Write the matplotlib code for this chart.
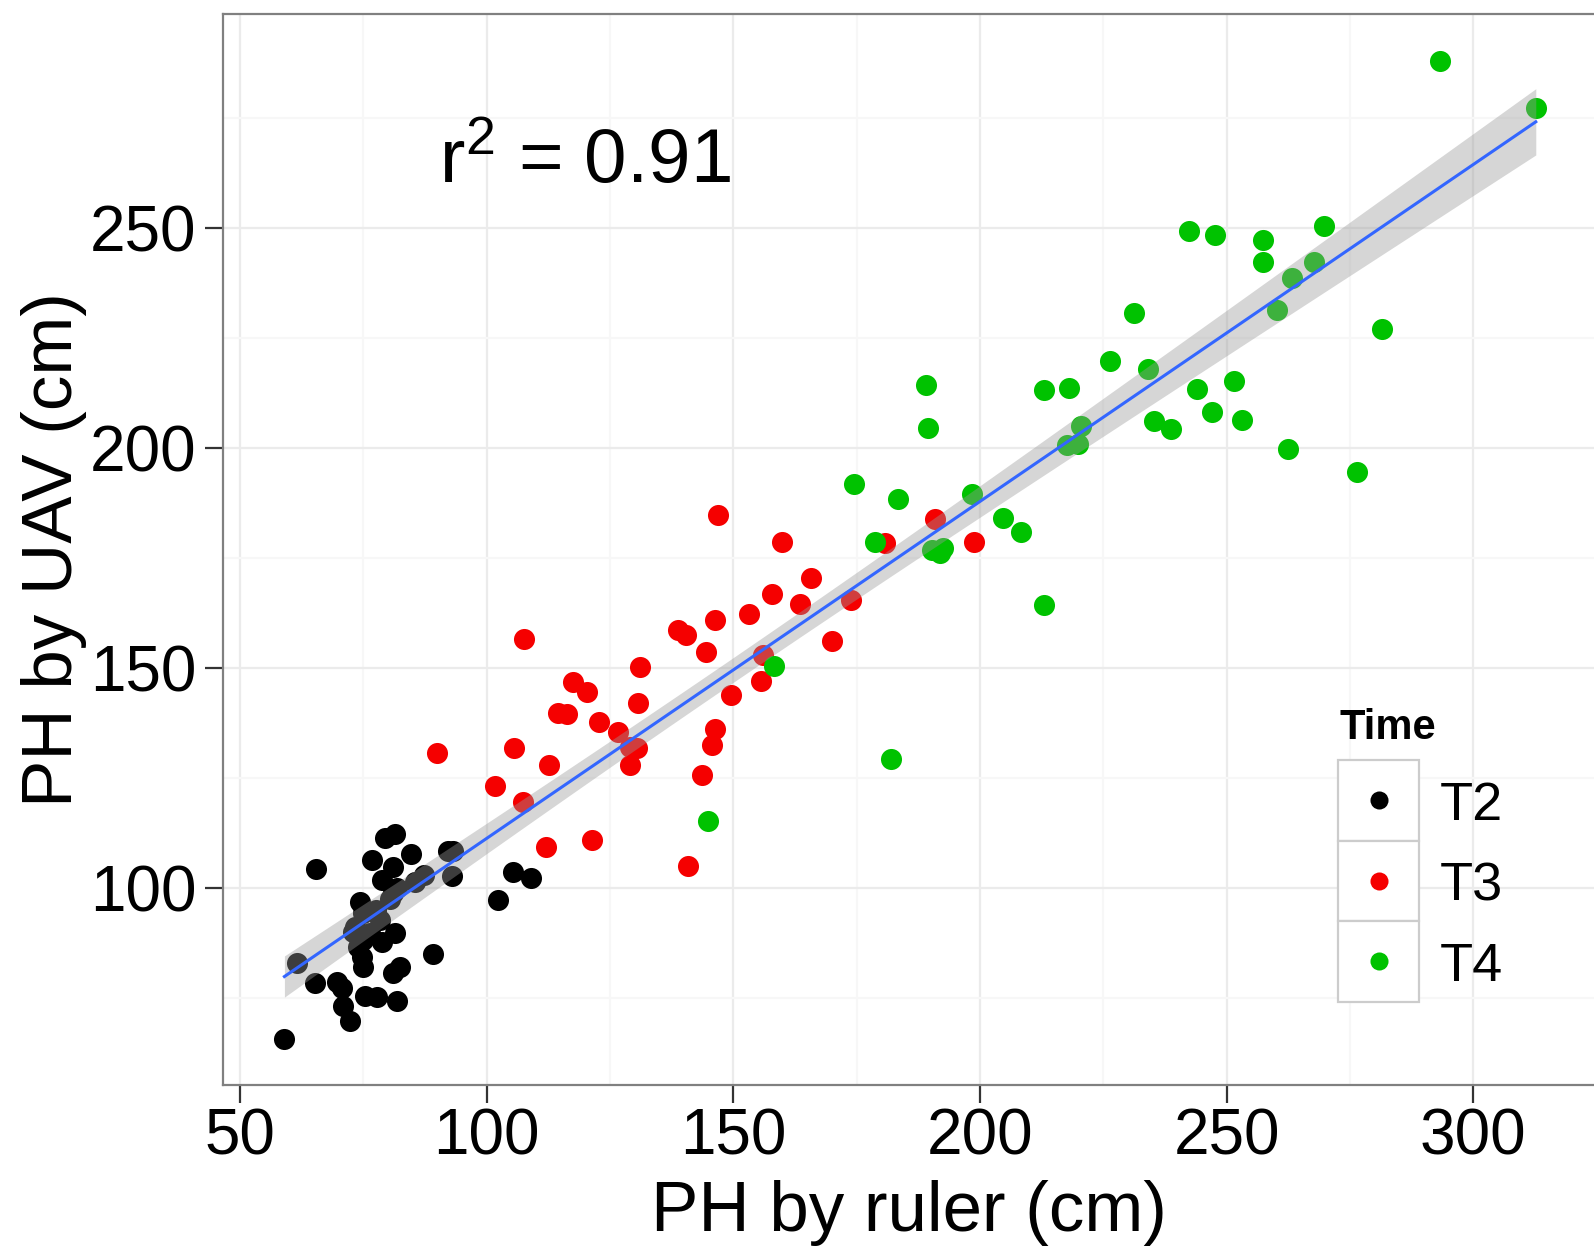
import numpy as np
import matplotlib
matplotlib.use("Agg")
import matplotlib.pyplot as plt
from matplotlib.patches import Rectangle
from matplotlib.lines import Line2D

plt.rcParams['font.family'] = ['Liberation Sans', 'DejaVu Sans']
plt.rcParams['mathtext.default'] = 'regular'

# plant height, ruler (x) vs UAV (y), per measuring time
t2_ruler = [65.5, 59.0, 61.5, 65.2, 69.6, 70.6, 70.9, 72.3, 75.3, 77.7, 81.8, 75.0,
            74.7, 81.1, 82.4, 81.4, 78.7, 89.1, 74.3, 73.3, 75.0, 78.4, 76.4, 75.0,
            76.7, 78.7, 81.1, 79.4, 81.4, 84.7, 81.1, 81.8, 85.5, 87.2, 92.2, 93.2,
            92.9, 105.3, 108.9, 102.4, 73.0, 77.5, 74.0, 80.5]
t2_uav = [104.3, 65.7, 83.0, 78.3, 78.7, 77.2, 73.1, 69.8, 75.4, 75.2, 74.4, 82.1,
          84.4, 80.6, 82.1, 89.7, 87.8, 84.9, 96.9, 91.2, 94.2, 92.7, 89.7, 88.2,
          106.4, 101.8, 104.8, 111.3, 112.2, 107.7, 98.8, 99.9, 101.4, 103.0, 108.3, 108.3,
          102.6, 103.7, 102.2, 97.3, 90.0, 95.0, 86.5, 97.5]

t3_ruler = [147.0, 159.8, 165.8, 157.8, 163.5, 153.2, 146.3, 138.8, 140.5, 144.5, 170.1,
            156.1, 155.6, 131.1, 149.5, 130.6, 117.6, 120.3, 114.5, 116.3, 122.8, 146.3,
            145.6, 126.7, 129.1, 130.4, 129.1, 143.7, 107.6, 90.0, 105.6, 112.7, 101.7,
            107.4, 112.0, 121.4, 140.9, 180.7, 190.9, 198.8, 173.9]
t3_uav = [184.8, 178.5, 170.4, 166.7, 164.5, 162.2, 160.9, 158.6, 157.5, 153.7, 156.1,
          153.0, 147.0, 150.1, 143.9, 142.0, 146.9, 144.5, 139.7, 139.5, 137.8, 136.1,
          132.5, 135.5, 132.1, 131.7, 128.0, 125.7, 156.5, 130.6, 131.9, 128.0, 123.2,
          119.6, 109.2, 110.9, 105.0, 178.3, 183.8, 178.7, 165.5]

t4_ruler = [158.3, 144.9, 182.0, 189.0, 189.4, 174.5, 183.3, 198.4, 204.6, 208.4, 178.7,
            190.2, 191.9, 192.6, 212.9, 212.9, 218.1, 217.6, 219.9, 220.4, 242.4, 247.7,
            257.3, 257.4, 269.8, 267.8, 263.3, 260.3, 231.2, 281.5, 226.4, 234.0, 244.0,
            251.5, 247.0, 253.1, 235.2, 238.8, 262.5, 276.4, 293.3, 312.7]
t4_uav = [150.5, 115.1, 129.3, 214.3, 204.5, 191.8, 188.3, 189.5, 184.0, 180.8, 178.7,
          176.8, 176.0, 177.2, 164.2, 213.2, 213.6, 200.7, 200.9, 205.0, 249.3, 248.4,
          247.3, 242.2, 250.5, 242.3, 238.6, 231.4, 230.6, 227.0, 219.8, 217.9, 213.3,
          215.2, 208.1, 206.4, 206.2, 204.2, 199.7, 194.4, 288.0, 277.3]

groups = ['T2', 'T3', 'T4']
colors = ['#000000', '#F50000', '#00C200']
r2_label = '0.91'

xs_all = [t2_ruler, t3_ruler, t4_ruler]
ys_all = [t2_uav, t3_uav, t4_uav]

W, H = 1594, 1251
fig = plt.figure(figsize=(W / 100, H / 100), dpi=100)
ax = fig.add_axes([223 / W, 166 / H, (W - 223) / W, 1071 / H])

for xv, yv, col in zip(xs_all, ys_all, colors):
    ax.scatter(xv, yv, s=230, color=col, linewidths=0, zorder=2)

# linear fit with 95% confidence band (like geom_smooth(method='lm'))
x = np.concatenate([np.asarray(v, float) for v in xs_all])
y = np.concatenate([np.asarray(v, float) for v in ys_all])
n = len(x)
slope, icpt = np.polyfit(x, y, 1)
resid = y - (slope * x + icpt)
s_err = np.sqrt(np.sum(resid ** 2) / (n - 2))
xg = np.linspace(x.min(), x.max(), 200)
yg = slope * xg + icpt
se = s_err * np.sqrt(1 / n + (xg - x.mean()) ** 2 / np.sum((x - x.mean()) ** 2))
tval = 1.98
ax.fill_between(xg, yg - tval * se, yg + tval * se, color='#999999', alpha=0.4,
                linewidth=0, zorder=3)
ax.plot(xg, yg, color='#3366FF', lw=2.2, zorder=4)

ax.set_xlim(46.55, 324.5)
ax.set_ylim(55.2, 298.6)
ax.set_xticks([50, 100, 150, 200, 250, 300])
ax.set_xticks([75, 125, 175, 225, 275], minor=True)
ax.set_yticks([100, 150, 200, 250])
ax.set_yticks([75, 125, 175, 225, 275], minor=True)
ax.grid(which='major', color='#EBEBEB', lw=1.6, zorder=0)
ax.grid(which='minor', color='#F7F7F7', lw=1.6, zorder=0)
ax.set_axisbelow(True)
ax.tick_params(which='major', length=13, width=1.6, color='#333333',
               labelsize=46, labelcolor='black')
ax.tick_params(axis='x', pad=3)
ax.tick_params(axis='y', pad=6)
ax.tick_params(which='minor', length=0)
for side in ['left', 'top', 'bottom']:
    ax.spines[side].set_color('#808080')
    ax.spines[side].set_linewidth(1.6)
ax.spines['right'].set_visible(False)

ax.set_xlabel('PH by ruler (cm)', fontsize=51, labelpad=9)
ax.set_ylabel('PH by UAV (cm)', fontsize=51, labelpad=2)

fig.text(439 / W, 1 - 183 / H, r'r$^2$ = ' + r2_label, fontsize=55, va='baseline')

# legend drawn by hand: bordered key boxes like ggplot
fig.text(1340 / W, 1 - 728 / H, 'Time', fontsize=30, weight='bold', va='center')
key_top, key_h, key_x, key_w = 760, 80.5, 1338, 81
for i, (lab, col) in enumerate(zip(groups, colors)):
    top = key_top + i * key_h
    fig.add_artist(Rectangle((key_x / W, 1 - (top + key_h) / H), key_w / W, key_h / H,
                             transform=fig.transFigure, facecolor='white',
                             edgecolor='#CCCCCC', lw=1.6))
    cy = top + key_h / 2
    fig.add_artist(Line2D([(key_x + key_w / 2) / W], [1 - cy / H], marker='o',
                          markersize=13, color=col, markeredgewidth=0,
                          transform=fig.transFigure))
    fig.text(1440 / W, 1 - (cy + 20) / H, lab, fontsize=39, va='baseline')

fig.savefig('out.png', dpi=100)
